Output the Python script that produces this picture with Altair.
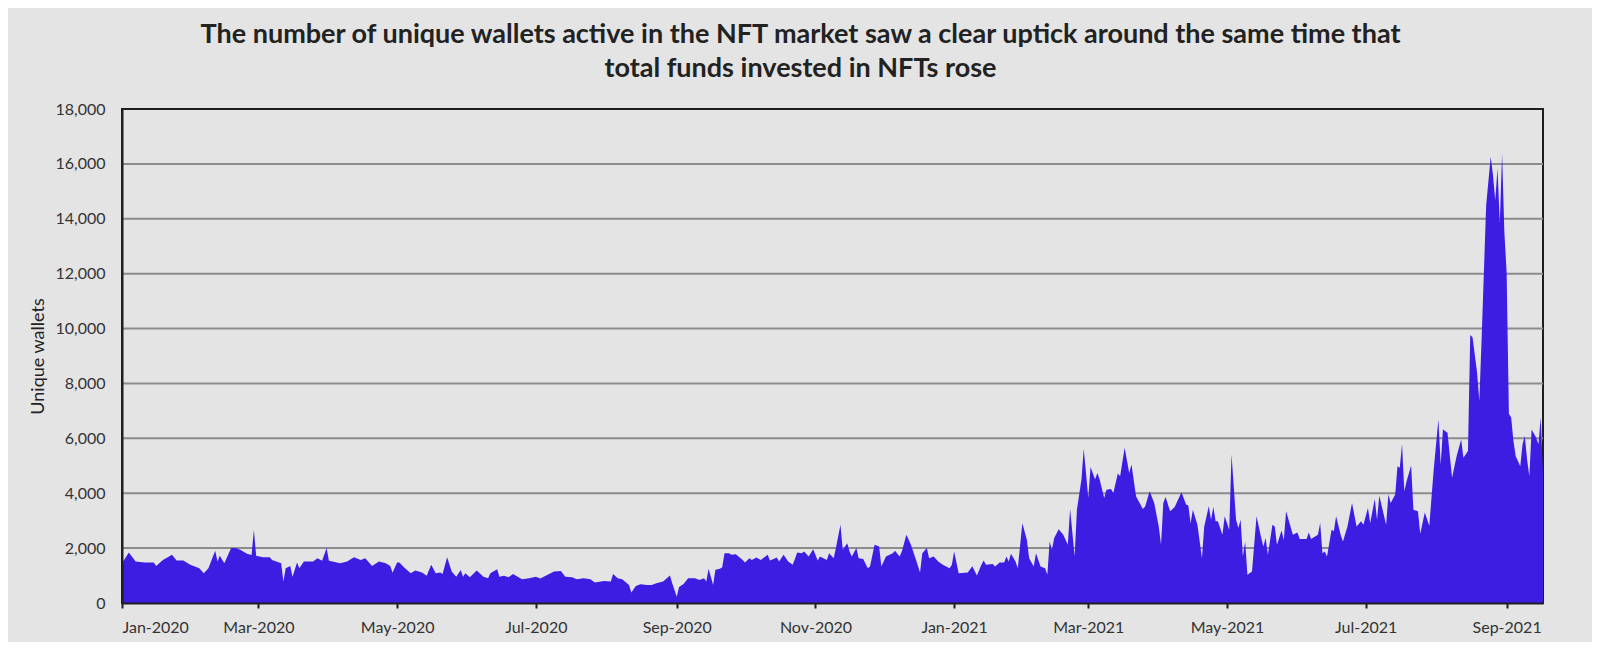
import altair as alt
import pandas as pd

START = "2020-01-01"

# day offset from 2020-01-01 and unique wallets
day_offsets = [
    0, 3, 6, 10, 14, 15, 18, 22, 24, 27, 30, 34, 36, 38, 41, 42, 43, 45, 48, 50,
    52, 55, 57, 58, 59, 62, 65, 66, 70, 71, 72, 74, 75, 77, 78, 80, 84, 86, 88, 90,
    91, 96, 99, 102, 105, 107, 110, 113, 116, 118, 119, 121, 122, 124, 127, 129, 132, 134, 136, 138,
    140, 141, 143, 145, 147, 149, 150, 151, 153, 156, 159, 161, 162, 165, 166, 168, 170, 172, 174, 176,
    179, 182, 184, 187, 190, 193, 195, 198, 200, 203, 206, 208, 212, 215, 216, 218, 220, 223, 224, 226,
    228, 231, 233, 235, 238, 241, 242, 244, 245, 247, 249, 252, 254, 256, 257, 258, 260, 261, 263, 264,
    265, 267, 268, 270, 273, 274, 276, 277, 279, 281, 284, 285, 288, 289, 291, 293, 295, 297, 299, 300,
    302, 304, 306, 307, 310, 311, 313, 314, 316, 317, 319, 320, 321, 323, 324, 326, 328, 329, 331, 333,
    334, 336, 339, 340, 342, 343, 345, 347, 349, 351, 352, 354, 355, 357, 359, 361, 364, 365, 366, 368,
    372, 374, 376, 378, 379, 380, 383, 384, 386, 388, 389, 390, 391, 393, 394, 396, 398, 399, 401, 402,
    404, 406, 407, 408, 409, 410, 412, 414, 416, 417, 419, 420, 422, 423, 425, 426, 428, 429, 430, 432,
    433, 435, 436, 438, 439, 441, 443, 444, 446, 449, 450, 452, 454, 456, 457, 458, 459, 461, 463, 466,
    468, 469, 470, 471, 473, 475, 476, 478, 479, 480, 481, 482, 484, 485, 487, 488, 490, 491, 492, 493,
    494, 495, 497, 499, 501, 502, 503, 504, 506, 507, 508, 510, 511, 512, 515, 517, 518, 521, 522, 523,
    526, 527, 528, 529, 530, 532, 533, 534, 536, 537, 539, 541, 543, 545, 546, 548, 549, 551, 552, 553,
    556, 557, 558, 560, 561, 562, 563, 564, 565, 567, 568, 570, 571, 573, 575, 576, 577, 579, 580, 581,
    583, 585, 587, 589, 590, 592, 593, 594, 596, 597, 598, 600, 602, 603, 604, 605, 606, 607, 608, 609,
    610, 611, 612, 613, 615, 616, 617, 618, 619, 620, 622, 623, 624, 625,
]

wallets = [
    1450, 1840, 1510, 1475, 1475, 1350, 1570, 1755, 1550, 1550, 1390, 1270, 1085, 1270, 1900, 1510, 1720, 1450, 2000, 2000,
    1940, 1790, 1750, 2670, 1720, 1670, 1670, 1570, 1450, 780, 1270, 1350, 960, 1475, 1270, 1510, 1510, 1630, 1540, 2000,
    1540, 1450, 1510, 1670, 1570, 1630, 1350, 1510, 1450, 1350, 1100, 1475, 1475, 1300, 1085, 1180, 1110, 990, 1390, 1085,
    1110, 1060, 1670, 1145, 960, 1205, 960, 1085, 940, 1180, 960, 900, 1085, 1230, 960, 990, 940, 1060, 960, 865,
    900, 960, 890, 1020, 1145, 1170, 960, 940, 865, 900, 865, 745, 805, 780, 1060, 900, 865, 660, 380, 620,
    680, 660, 660, 720, 780, 1000, 720, 230, 580, 690, 900, 900, 840, 900, 780, 1245, 660, 1210, 1245, 1300,
    1815, 1815, 1755, 1780, 1570, 1475, 1635, 1570, 1660, 1570, 1755, 1550, 1660, 1510, 1755, 1510, 1390, 1840, 1815, 1880,
    1695, 1960, 1550, 1695, 1570, 1815, 1635, 2000, 2850, 1940, 2180, 1880, 1695, 2000, 1635, 1600, 1270, 1330, 2120, 2060,
    1330, 1695, 1815, 1900, 1695, 1880, 2490, 2120, 1635, 1110, 1815, 2000, 1635, 1695, 1510, 1390, 1270, 1390, 1880, 1085,
    1110, 1340, 1000, 1390, 1550, 1390, 1425, 1330, 1475, 1475, 1695, 1510, 1790, 1510, 1270, 2910, 2300, 1630, 1330, 1815,
    1330, 1270, 1025, 2245, 1940, 2365, 2690, 2490, 2120, 3425, 1695, 3400, 4500, 5620, 3830, 4960, 4500, 4740, 4500, 3830,
    4130, 4150, 4010, 4720, 4620, 5660, 4740, 5050, 3890, 3425, 3520, 4070, 3645, 2790, 2120, 3645, 3865, 3340, 3500, 4035,
    3585, 3550, 2910, 3400, 2850, 1630, 2790, 3525, 3035, 3500, 2975, 2975, 2490, 3160, 2670, 5410, 3035, 2730, 3035, 1695,
    2245, 1025, 1145, 3160, 2400, 2060, 2365, 1755, 2850, 2790, 2120, 2645, 2300, 3340, 2490, 2570, 2330, 2330, 2570, 2330,
    2490, 2915, 1815, 1880, 1695, 2670, 2610, 3160, 2490, 2245, 2790, 3645, 2790, 2975, 2850, 3460, 2915, 3790, 3035, 3910,
    2850, 3950, 3645, 3950, 4985, 4925, 5780, 4070, 4435, 5010, 3400, 3340, 2525, 3300, 2815, 3890, 4925, 6690, 5045, 6325,
    6205, 4560, 5350, 5960, 5290, 5535, 9765, 9680, 8400, 7360, 9620, 14495, 16260, 15590, 14675, 15835, 13825, 16380, 13520, 12055,
    6900, 6755, 5900, 5350, 4985, 5780, 6085, 5230, 4620, 6325, 6020, 5780, 6755, 4740,
]

grid_values = [2000, 4000, 6000, 8000, 10000, 12000, 14000, 16000]
y_ticks = [0, 2000, 4000, 6000, 8000, 10000, 12000, 14000, 16000, 18000]
tick_months = [(2020, 1), (2020, 3), (2020, 5), (2020, 7), (2020, 9), (2020, 11),
               (2021, 1), (2021, 3), (2021, 5), (2021, 7), (2021, 9)]

title_lines = [
    "The number of unique wallets active in the NFT market saw a clear uptick around the same time that",
    "total funds invested in NFTs rose",
]

dates = [(pd.Timestamp(START) + pd.Timedelta(days=d)).strftime("%Y-%m-%dT00:00:00") for d in day_offsets]
df = pd.DataFrame({"date": dates, "wallets": wallets})
grid_df = pd.DataFrame({"g": grid_values})

FONT = "Lato"
DARK = "#1e1e1e"

x_scale = alt.Scale(domain=[alt.DateTime(year=2020, month=1, date=1),
                            alt.DateTime(year=2021, month=9, date=17)])
y_scale = alt.Scale(domain=[0, 18000], nice=False)

y_axis = alt.Axis(
    values=y_ticks, format=",d", title="Unique wallets", grid=False, ticks=False,
    domain=True, domainColor=DARK, domainWidth=2, labelPadding=17,
    labelFont=FONT, labelFontSize=16, labelColor="#333333",
    titleFont=FONT, titleFontSize=18, titleFontWeight="normal", titleColor="#222222",
    titleX=-84, titleY=247, titleBaseline="middle", titleAngle=270, zindex=1,
)

x_axis = alt.Axis(
    values=[alt.DateTime(year=y, month=m, date=1) for y, m in tick_months],
    format="%b-%Y", title=None, grid=False, labelAngle=0,
    domainColor=DARK, domainWidth=2, tickColor=DARK, tickWidth=2, tickSize=5,
    labelPadding=11, labelFont=FONT, labelFontSize=16, labelColor="#333333", zindex=1,
)

grid = alt.Chart(grid_df).mark_rule(color="#8c8c8c", strokeWidth=2).encode(
    y=alt.Y("g:Q", scale=y_scale, axis=y_axis)
)

area = alt.Chart(df).mark_area(color="#3d1de2", interpolate="linear").encode(
    x=alt.X("date:T", scale=x_scale, axis=x_axis),
    y=alt.Y("wallets:Q", scale=y_scale, axis=y_axis),
)

chart = alt.layer(grid, area).properties(
    width=1421,
    height=494,
    autosize="none",
    padding={"left": 114, "top": 101, "right": 49, "bottom": 39},
    background="#e4e4e4",
    title=alt.TitleParams(
        text=title_lines, font=FONT, fontSize=27, fontWeight="bold", color="#222222",
        anchor="middle", frame="group", dx=-32, offset=18, lineHeight=34,
    ),
).configure_view(stroke=DARK, strokeWidth=2)

chart.save("out.html", embed_options={"renderer": "svg", "actions": False})
